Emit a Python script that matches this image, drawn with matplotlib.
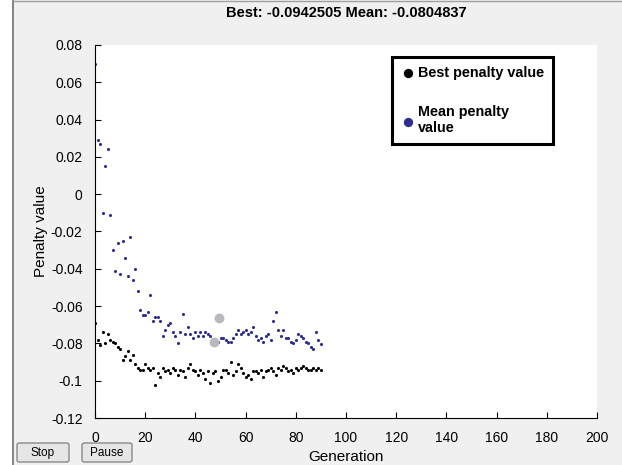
import matplotlib
matplotlib.use('Agg')
import matplotlib.pyplot as plt
from matplotlib.patches import FancyBboxPatch, Rectangle
from matplotlib.lines import Line2D
import numpy as np

plt.rcParams['font.family'] = ['Liberation Sans', 'DejaVu Sans']

#%% data
mean_vals = [0.070, 0.029, 0.027, -0.010, 0.015, 0.024, -0.011, -0.030, -0.041, -0.026,
             -0.043, -0.025, -0.034, -0.044, -0.023, -0.046, -0.040, -0.052, -0.062, -0.065,
             -0.065, -0.063, -0.054, -0.068, -0.066, -0.066, -0.068, -0.076, -0.073, -0.070,
             -0.069, -0.074, -0.076, -0.080, -0.074, -0.064, -0.075, -0.071, -0.075, -0.077,
             -0.074, -0.076, -0.074, -0.076, -0.074, -0.075, -0.076, -0.079, -0.078, -0.079,
             -0.077, -0.077, -0.078, -0.079, -0.079, -0.077, -0.075, -0.073, -0.075, -0.074,
             -0.073, -0.075, -0.074, -0.071, -0.076, -0.078, -0.077, -0.079, -0.076, -0.075,
             -0.078, -0.068, -0.063, -0.073, -0.076, -0.073, -0.077, -0.077, -0.079, -0.080,
             -0.078, -0.075, -0.076, -0.077, -0.079, -0.080, -0.082, -0.083, -0.074, -0.078,
             -0.0804837]
best_vals = [-0.069, -0.078, -0.081, -0.074, -0.080, -0.075, -0.078, -0.079, -0.080, -0.082,
             -0.083, -0.089, -0.087, -0.084, -0.089, -0.086, -0.091, -0.093, -0.094, -0.094,
             -0.091, -0.093, -0.094, -0.093, -0.1025, -0.096, -0.098, -0.093, -0.095, -0.094,
             -0.096, -0.093, -0.094, -0.097, -0.094, -0.095, -0.098, -0.093, -0.091, -0.094,
             -0.095, -0.097, -0.094, -0.096, -0.099, -0.095, -0.101, -0.096, -0.095, -0.100,
             -0.098, -0.094, -0.094, -0.096, -0.090, -0.097, -0.095, -0.091, -0.093, -0.096,
             -0.098, -0.097, -0.099, -0.095, -0.095, -0.096, -0.094, -0.098, -0.095, -0.094,
             -0.093, -0.095, -0.097, -0.093, -0.094, -0.092, -0.093, -0.095, -0.094, -0.096,
             -0.093, -0.094, -0.093, -0.092, -0.093, -0.094, -0.094, -0.093, -0.094, -0.093,
             -0.0942505]
gens = np.arange(len(mean_vals))
gray_x = [49.4, 47.4]
gray_y = [-0.0665, -0.0795]
xticks = [0, 20, 40, 60, 80, 100, 120, 140, 160, 180, 200]
yticks = [0.08, 0.06, 0.04, 0.02, 0, -0.02, -0.04, -0.06, -0.08, -0.1, -0.12]
ytick_labels = ['0.08', '0.06', '0.04', '0.02', '0', '-0.02', '-0.04', '-0.06', '-0.08', '-0.1', '-0.12']

#%% figure
W, H = 622, 465
fig = plt.figure(figsize=(W/100, H/100), dpi=100, facecolor='#f0f0f0')

# window frame on the left
fig.patches.append(Rectangle((0, 0), 12/W, 1, transform=fig.transFigure, color='white', zorder=0))
fig.lines.append(Line2D([12.5/W, 12.5/W], [0, 1], transform=fig.transFigure, color='#707070', lw=1.2))
fig.lines.append(Line2D([12.5/W, 1], [1-1/H, 1-1/H], transform=fig.transFigure, color='#a0a0a0', lw=1))

ax = fig.add_axes([95/W, 1-418/H, (597-95)/W, (418-45)/H])
ax.set_facecolor('white')
ax.scatter(gens, best_vals, s=5, color='black', marker='o', linewidths=0, label='Best penalty value')
ax.scatter(gens, mean_vals, s=5, color='#2e2e90', marker='o', linewidths=0, label='Mean penalty\nvalue')
ax.scatter(gray_x, gray_y, s=50, color='#b8b8be', linewidths=0, zorder=3)

ax.set_xlim(0, 200)
ax.set_ylim(-0.12, 0.08)
ax.set_xticks(xticks)
ax.set_yticks(yticks)
ax.set_yticklabels(ytick_labels)
ax.tick_params(direction='in', length=4, labelsize=10, colors='black')
ax.tick_params(axis='x', pad=9)
ax.tick_params(axis='y', pad=9)
ax.spines['top'].set_visible(False)
ax.spines['right'].set_visible(False)
ax.set_xlabel('Generation', fontsize=11, labelpad=4)
ax.set_ylabel('Penalty value', fontsize=11, labelpad=2)
ax.set_title('Best: -0.0942505 Mean: -0.0804837', fontsize=10.5, fontweight='bold', pad=20)

leg = ax.legend(loc='upper right', bbox_to_anchor=(553/W, 1-57/H), bbox_transform=fig.transFigure,
                fancybox=False, framealpha=1, edgecolor='black', markerscale=3.0,
                prop={'weight': 'bold', 'size': 10.4}, labelspacing=1.75, handletextpad=0.2,
                handlelength=1.0, borderpad=0.6, borderaxespad=0)
leg.get_frame().set_linewidth(2.2)

# Stop / Pause buttons
for x0, x1, txt in [(17, 69, 'Stop'), (82, 132, 'Pause')]:
    b = FancyBboxPatch((x0/W, 1-462/H), (x1-x0)/W, 19/H, boxstyle='round,pad=0,rounding_size=0.004',
                       transform=fig.transFigure, facecolor='#e6e6e6', edgecolor='#8a8a8a', lw=1)
    fig.patches.append(b)
    fig.text((x0+x1)/2/W, 1-452.5/H, txt, ha='center', va='center', fontsize=8.5)

plt.savefig('out.png', dpi=100, facecolor=fig.get_facecolor())
